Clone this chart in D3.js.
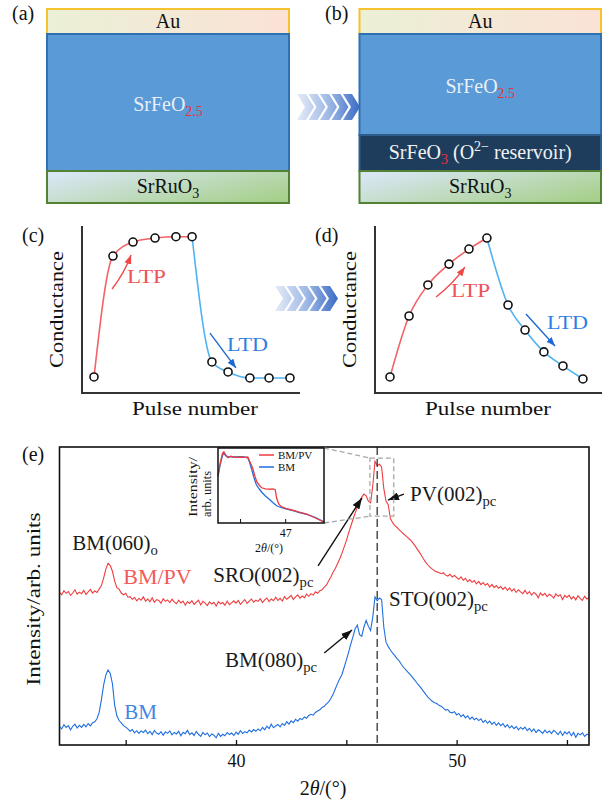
<!DOCTYPE html>
<html>
<head>
<meta charset="utf-8">
<script src="https://cdn.jsdelivr.net/npm/d3@7"></script>
<style>
  body { margin: 0; background: #fff; }
  svg { display: block; }
  text { font-family: "Liberation Serif", "DejaVu Serif", "Times New Roman", serif; white-space: pre; }
</style>
</head>
<body>
<div id="chart"></div>
<script>
// ---- data ----
// device stacks (layer thickness, arbitrary units)
const stackA = ["Au", "SrFeO2.5", "SrRuO3"];
const thickA = [25, 137, 32];
const stackB = ["Au", "SrFeO2.5", "SrFeO3", "SrRuO3"];
const thickB = [25, 101, 36, 32];

// (c) conductance vs pulse number (abrupt switching)
const cPulse = [5.5, 14.2, 23.4, 33.5, 43.1, 50.5, 59.6, 67.0, 77.0, 85.8, 95.4];
const cCond = [9.6, 82.0, 90.4, 92.8, 93.6, 93.6, 18.6, 12.6, 9.0, 9.0, 9.0];
// (d) conductance vs pulse number (gradual switching)
const dPulse = [6.6, 15.0, 23.3, 32.6, 41.4, 49.3, 58.6, 66.1, 74.4, 82.8, 91.6];
const dCond = [9.6, 46.1, 64.7, 77.2, 86.2, 92.8, 52.7, 37.7, 24.6, 16.2, 8.4];
const peakIndex = 5; // last LTP pulse

// (e) XRD, 2theta sampled every 0.1 deg from 32 to 56
const tth = d3.range(241).map(i => Math.round((32 + i / 10) * 10) / 10);
const bmpvI = [
  51.2, 50.4, 51.8, 50.9, 51.5, 50.2, 51.0, 52.1, 50.6, 51.3,
  50.8, 51.9, 50.5, 51.4, 52.2, 51.0, 51.7, 51.2, 52.4, 53.5,
  56.0, 59.0, 61.0, 60.2, 58.3, 55.0, 52.8, 52.3, 51.0, 50.4,
  50.9, 49.6, 49.8, 48.9, 49.5, 48.4, 49.2, 48.6, 49.7, 48.3,
  49.0, 48.1, 49.4, 47.9, 48.8, 48.5, 47.6, 49.1, 48.2, 48.7,
  47.8, 48.9, 48.0, 47.4, 48.6, 47.7, 48.3, 46.9, 48.1, 47.5,
  48.4, 47.2, 47.9, 48.6, 47.0, 48.2, 47.6, 46.8, 48.0, 47.3,
  47.9, 46.6, 48.1, 47.4, 47.8, 46.9, 48.3, 47.1, 47.7, 48.4,
  47.6, 48.5, 47.2, 48.0, 48.8, 47.5, 48.3, 49.0, 47.9, 48.6,
  48.2, 49.1, 47.8, 48.7, 49.3, 48.1, 49.0, 48.4, 49.6, 48.5,
  49.2, 48.3, 49.8, 48.9, 49.5, 50.2, 48.8, 49.7, 50.4, 49.3,
  50.0, 49.4, 50.6, 49.9, 50.8, 50.3, 51.4, 50.9, 51.8, 52.1,
  53.0, 53.6, 55.1, 56.4, 58.0, 59.2, 60.8, 62.4, 64.3, 66.4,
  68.5, 71.0, 73.4, 75.6, 77.8, 79.8, 81.6, 83.2, 84.2, 83.6,
  81.8, 81.3, 87.0, 95.2, 93.8, 94.2, 93.3, 86.0, 81.8, 80.6,
  76.0, 74.6, 73.6, 73.0, 72.2, 71.5, 70.8, 70.2, 69.5, 68.8,
  68.0, 67.0, 65.9, 64.8, 63.7, 62.4, 61.3, 60.4, 59.6, 59.0,
  58.5, 58.1, 57.9, 57.5, 57.8, 57.0, 56.7, 57.3, 56.4, 56.9,
  56.2, 55.6, 56.4, 55.3, 55.9, 54.8, 55.5, 54.6, 55.2, 54.1,
  54.9, 53.8, 54.5, 53.6, 54.2, 53.0, 53.9, 52.8, 53.5, 52.6,
  53.2, 52.2, 53.0, 51.9, 52.7, 51.6, 52.4, 51.2, 52.1, 51.4,
  50.8, 51.9, 50.7, 51.5, 50.3, 51.2, 50.6, 49.4, 51.0, 50.2,
  50.9, 49.8, 50.6, 50.1, 49.3, 50.7, 49.9, 50.4, 48.8, 50.2,
  49.5, 50.3, 49.0, 49.8, 48.7, 50.1, 49.2, 48.5, 49.9, 49.0,
  49.4
];
const bmI = [
  6.2, 5.4, 6.8, 5.9, 6.5, 5.1, 6.3, 7.0, 5.7, 6.6,
  5.9, 6.9, 6.1, 7.2, 6.4, 7.5, 7.8, 8.8, 11.0, 15.2,
  20.1, 23.5, 25.2, 24.0, 20.5, 13.4, 9.8, 8.2, 7.4, 6.5,
  6.0, 5.4, 4.6, 5.2, 4.1, 4.8, 3.9, 4.7, 4.2, 5.0,
  3.8, 4.6, 3.5, 4.9, 4.0, 3.6, 4.5, 3.3, 4.4, 3.9,
  4.7, 3.4, 4.2, 3.7, 4.6, 3.1, 4.3, 3.8, 4.9, 3.5,
  4.1, 3.2, 4.5, 3.6, 2.9, 4.2, 3.4, 4.0, 2.8, 3.7,
  3.3, 2.4, 3.9, 2.9, 3.6, 3.1, 4.2, 3.5, 4.0, 3.2,
  4.3, 3.6, 4.8, 3.9, 4.5, 4.1, 5.0, 4.4, 5.2, 4.6,
  5.4, 4.8, 5.9, 5.1, 6.3, 5.5, 7.0, 5.8, 6.4, 6.9,
  6.1, 7.2, 6.6, 7.8, 7.0, 8.1, 7.5, 8.6, 8.0, 8.9,
  8.5, 9.4, 9.0, 9.9, 10.3, 10.0, 10.9, 11.4, 11.8, 12.6,
  13.0, 13.8, 14.5, 15.6, 17.0, 18.8, 20.6, 22.2, 23.6, 26.0,
  28.5, 31.0, 33.8, 36.3, 39.0, 40.2, 37.0, 36.5, 39.6, 41.8,
  39.8, 38.4, 43.0, 49.7, 48.4, 49.3, 48.8, 39.5, 34.5, 33.0,
  31.9, 30.8, 30.0, 29.0, 28.2, 27.0, 26.0, 25.2, 24.4, 23.6,
  22.7, 21.8, 20.8, 19.9, 19.0, 18.0, 17.0, 16.1, 15.3, 14.7,
  14.2, 13.9, 13.3, 13.0, 12.4, 11.7, 11.9, 11.0, 10.8, 11.2,
  10.1, 10.6, 9.5, 10.2, 9.1, 9.8, 8.7, 9.4, 8.5, 9.0,
  8.2, 8.8, 7.6, 8.3, 7.3, 8.0, 6.9, 7.7, 6.6, 7.4,
  6.5, 7.2, 6.0, 6.8, 5.7, 6.4, 5.5, 6.2, 5.1, 5.9,
  5.3, 6.0, 4.8, 5.6, 4.5, 5.4, 4.2, 5.1, 4.6, 3.9,
  5.0, 4.1, 4.7, 3.8, 4.9, 4.3, 3.5, 4.6, 3.2, 4.4,
  3.7, 4.5, 3.1, 4.2, 2.6, 3.9, 3.4, 4.1, 2.9, 3.6,
  3.5
];
const xTicks = [35, 40, 45, 50, 55];
const xTickLabels = ["", "40", "", "50", ""];
const stoPeak = 46.4;

// inset: zoomed scan around the main peak
const insetBmpvTh = [45.50, 45.55, 45.60, 45.63, 45.68, 45.72, 45.78, 45.85, 45.92, 46.00, 46.08, 46.16, 46.22, 46.27, 46.32, 46.36, 46.42, 46.47, 46.55, 46.65, 46.72, 46.77, 46.80, 46.85, 46.90, 47.00, 47.16, 47.30, 47.47, 47.65, 47.85];
const insetBmpvI = [64, 80, 93, 95, 90, 87, 89, 88, 87.5, 88, 87.5, 88, 80, 73, 62, 55, 50, 47, 45.5, 45, 45.5, 44, 33, 25, 22, 19.5, 17, 14.5, 12, 7, 1];
const insetBmTh = [45.50, 45.55, 45.60, 45.63, 45.68, 45.72, 45.78, 45.85, 45.92, 46.00, 46.08, 46.16, 46.20, 46.25, 46.30, 46.35, 46.42, 46.47, 46.55, 46.65, 46.72, 46.80, 46.88, 47.00, 47.16, 47.30, 47.47, 47.65, 47.85];
const insetBmI = [62, 78, 90, 93, 89, 88, 88.5, 88, 88, 88.5, 88, 87, 81, 71, 60, 51, 45, 41, 36, 31, 27, 23, 21, 19, 16.5, 14, 11.5, 7.5, 1.5];
const insetDomain = [45.5, 47.85];
const zoomWindowTh = [46.07, 47.15];
const zoomWindowI = [76.8, 96.3];

// ---- drawing ----
const RED = "#ee3d3f", BLUE = "#1f6fe0";
const svg = d3.select("#chart").append("svg").attr("width", 605).attr("height", 802);
const defs = svg.append("defs");

function linGrad(id, stops, x1, y1, x2, y2, user) {
  const g = defs.append("linearGradient").attr("id", id)
    .attr("x1", x1).attr("y1", y1).attr("x2", x2).attr("y2", y2);
  if (user) g.attr("gradientUnits", "userSpaceOnUse");
  stops.forEach(s => g.append("stop").attr("offset", s[0]).attr("stop-color", s[1]));
}
linGrad("gAu", [[0, "#ebf0d6"], [1, "#fbe2d6"]], 0, 0, 1, 0);
linGrad("gSRO", [[0, "#d8e6f3"], [1, "#a7d08c"]], 0, 0.2, 1, 0.8);

function marker(id, color, len, wid) {
  defs.append("marker").attr("id", id).attr("markerUnits", "userSpaceOnUse")
    .attr("viewBox", `0 0 ${len} ${wid}`).attr("markerWidth", len).attr("markerHeight", wid)
    .attr("refX", len).attr("refY", wid / 2).attr("orient", "auto")
    .append("path").attr("d", `M0,0L${len},${wid / 2}L0,${wid}Z`).attr("fill", color);
}
marker("ahBlack", "#111", 11, 8);
marker("ahRed", "#f04848", 9, 7);
marker("ahBlue", "#1d6ad6", 9, 7);

// text with sub/superscripts (and italic parts)
function rich(g, x, y, parts, size, anchor) {
  const t = g.append("text").attr("x", x).attr("y", y).attr("font-size", size)
    .attr("text-anchor", anchor || "start");
  let shift = 0;
  parts.forEach(p => {
    const s = t.append("tspan").text(p.t);
    const target = p.sub ? 0.25 * size : p.sup ? -0.42 * size : 0;
    if (target !== shift) s.attr("dy", target - shift);
    shift = target;
    if (p.sub || p.sup) s.attr("font-size", size * 0.7);
    if (p.fill) s.attr("fill", p.fill);
    if (p.it) s.attr("font-style", "italic");
  });
  return t;
}

function plainLabel(g, x, y, txt, size, len, rotate) {
  const t = g.append("text").attr("font-size", size).attr("text-anchor", "middle")
    .attr("fill", "#111").text(txt);
  if (len) t.attr("textLength", len).attr("lengthAdjust", "spacingAndGlyphs");
  if (rotate) t.attr("transform", `translate(${x},${y}) rotate(-90)`);
  else t.attr("x", x).attr("y", y);
  return t;
}
const thetaParts = [{ t: "2" }, { t: "θ", it: true }, { t: "/(°)" }];

// panel letters
[["(a)", 12, 20], ["(b)", 325, 20], ["(c)", 22, 242], ["(d)", 315, 242], ["(e)", 22, 461]]
  .forEach(([s, x, y]) => svg.append("text").attr("x", x).attr("y", y).attr("font-size", 20).attr("fill", "#111").text(s));

// (a), (b) layer stacks
const layerStyle = {
  "Au": { fill: "url(#gAu)", stroke: "#f5c230", color: "#111", label: [{ t: "Au" }] },
  "SrFeO2.5": { fill: "#5a9ad6", stroke: "#2f71b0", color: "#e8eff8", label: [{ t: "SrFeO" }, { t: "2.5", sub: true, fill: "#e8323c" }] },
  "SrFeO3": { fill: "#1e3d5d", stroke: "#2c5d8c", color: "#f2f2f2", label: [{ t: "SrFeO" }, { t: "3", sub: true, fill: "#e8323c" }, { t: " (O" }, { t: "2−", sup: true }, { t: " reservoir)" }] },
  "SrRuO3": { fill: "url(#gSRO)", stroke: "#548235", color: "#111", label: [{ t: "SrRuO" }, { t: "3", sub: true }] }
};

function drawStack(x0, x1, names, thick) {
  const y = d3.scaleLinear().domain([0, d3.sum(thick)]).range([9, 203]);
  let acc = 0;
  names.forEach((n, i) => {
    const top = y(acc), bot = y(acc + thick[i]);
    acc += thick[i];
    const st = layerStyle[n];
    svg.append("rect").attr("x", x0).attr("y", top).attr("width", x1 - x0).attr("height", bot - top)
      .attr("fill", st.fill).attr("stroke", st.stroke).attr("stroke-width", 2);
    const off = n === "SrFeO2.5" ? 8 : 6;
    rich(svg, (x0 + x1) / 2, (top + bot) / 2 + off, st.label, 20, "middle").attr("fill", st.color);
  });
}
drawStack(47, 289, stackA, thickA);
drawStack(359.5, 601, stackB, thickB);

// chevron arrows
function chevrons(id, x0, y0, h, n) {
  const w = 9, d = 8, step = 11.5;
  const total = (n - 1) * step + w + d;
  linGrad(id, [[0, "#e4ebf7"], [0.5, "#9fb9e6"], [1, "#3a6bc4"]], x0, 0, x0 + total, 0, true);
  for (let i = 0; i < n; i++) {
    const x = x0 + i * step;
    const pts = [[x, y0], [x + w, y0], [x + w + d, y0 + h / 2], [x + w, y0 + h], [x, y0 + h], [x + d, y0 + h / 2]];
    svg.append("polygon").attr("points", pts.map(p => p.join(",")).join(" ")).attr("fill", `url(#${id})`);
  }
}
chevrons("gChev1", 297, 94, 26, 5);
chevrons("gChev2", 275, 286, 25, 5);

// (c), (d) conductance schematics
function curvedArrow(g, p0, p1, bend, color, mk) {
  const mx = (p0[0] + p1[0]) / 2, my = (p0[1] + p1[1]) / 2;
  const dx = p1[0] - p0[0], dy = p1[1] - p0[1], L = Math.hypot(dx, dy);
  const cx = mx - dy / L * bend, cy = my + dx / L * bend;
  g.append("path").attr("d", `M${p0[0]},${p0[1]}Q${cx},${cy} ${p1[0]},${p1[1]}`)
    .attr("fill", "none").attr("stroke", color).attr("stroke-width", 1.4).attr("marker-end", `url(#${mk})`);
}

function drawConductance(x0, x1, pulse, cond, ann) {
  const g = svg.append("g");
  const x = d3.scaleLinear().domain([0, 100]).range([x0, x1]);
  const y = d3.scaleLinear().domain([0, 100]).range([393, 226]);
  const pts = pulse.map((p, i) => [p, cond[i]]);
  const line = d3.line().x(d => x(d[0])).y(d => y(d[1])).curve(d3.curveMonotoneX);

  g.append("path").attr("d", `M${x0},${y.range()[1]}V${y.range()[0]}H${x1}`)
    .attr("fill", "none").attr("stroke", "#333").attr("stroke-width", 2);
  g.append("path").attr("d", line(pts.slice(0, peakIndex + 1)))
    .attr("fill", "none").attr("stroke", "#f36266").attr("stroke-width", 1.6);
  g.append("path").attr("d", line(pts.slice(peakIndex)))
    .attr("fill", "none").attr("stroke", "#4fb3f2").attr("stroke-width", 1.6);
  g.selectAll("circle").data(pts).join("circle")
    .attr("cx", d => x(d[0])).attr("cy", d => y(d[1])).attr("r", 4)
    .attr("fill", "#fff").attr("stroke", "#111").attr("stroke-width", 1.6);

  const P = d => [x(d[0]), y(d[1])];
  curvedArrow(g, P(ann.ltpArrow[0]), P(ann.ltpArrow[1]), ann.ltpBend, "#f04848", "ahRed");
  curvedArrow(g, P(ann.ltdArrow[0]), P(ann.ltdArrow[1]), ann.ltdBend, "#1d6ad6", "ahBlue");
  g.append("text").attr("x", x(ann.ltpText[0])).attr("y", y(ann.ltpText[1]))
    .attr("font-size", 19).attr("fill", "#f0525a").attr("textLength", 39).attr("lengthAdjust", "spacingAndGlyphs").text("LTP");
  g.append("text").attr("x", x(ann.ltdText[0])).attr("y", y(ann.ltdText[1]))
    .attr("font-size", 19).attr("fill", "#2f7fe0").attr("textLength", 41).attr("lengthAdjust", "spacingAndGlyphs").text("LTD");

  plainLabel(g, x0 - 19, (226 + 393) / 2, "Conductance", 19, 117, true);
  plainLabel(g, (x0 + 218 / 2) + 4, 415, "Pulse number", 19, 126);
}

drawConductance(82, 300, cPulse, cCond, {
  ltpArrow: [[13.8, 62.3], [22.5, 82.6]], ltpBend: 3,
  ltdArrow: [[58.7, 35.9], [70.6, 15.0]], ltdBend: 0,
  ltpText: [20.6, 65.9], ltdText: [66.5, 25.1]
});
drawConductance(375, 602, dPulse, dCond, {
  ltpArrow: [[26.9, 57.5], [39.6, 75.4]], ltpBend: 3,
  ltdArrow: [[66.5, 47.3], [79.3, 28.1]], ltdBend: 0,
  ltpText: [33.5, 57.5], ltdText: [75.8, 38.3]
});

// (e) XRD patterns
const ge = svg.append("g");
const x = d3.scaleLinear().domain([32, 56]).range([59.5, 589]);
const y = d3.scaleLinear().domain([0, 100]).range([745, 447]);
const xrdLine = d3.line().x(d => x(d[0])).y(d => y(d[1]));

ge.append("path").attr("d", xrdLine(tth.map((t, i) => [t, bmpvI[i]])))
  .attr("fill", "none").attr("stroke", RED).attr("stroke-width", 1.1);
ge.append("path").attr("d", xrdLine(tth.map((t, i) => [t, bmI[i]])))
  .attr("fill", "none").attr("stroke", BLUE).attr("stroke-width", 1.1);

ge.append("line").attr("x1", x(stoPeak)).attr("x2", x(stoPeak)).attr("y1", y(100)).attr("y2", y(0))
  .attr("stroke", "#333").attr("stroke-width", 1.3).attr("stroke-dasharray", "8,4");

const xAxis = d3.axisBottom(x).tickValues(xTicks).tickSizeInner(-5).tickSizeOuter(0).tickPadding(9)
  .tickFormat((d, i) => xTickLabels[i]);
ge.append("g").attr("transform", `translate(0,${y(0)})`).call(xAxis)
  .call(a => a.select(".domain").remove())
  .call(a => a.selectAll("line").attr("stroke", "#111").attr("stroke-width", 1.3))
  .call(a => a.selectAll("text").attr("font-size", 18).attr("fill", "#111"));

ge.append("rect").attr("x", x(32)).attr("y", y(100)).attr("width", x(56) - x(32)).attr("height", y(0) - y(100))
  .attr("fill", "none").attr("stroke", "#111").attr("stroke-width", 1.6);

plainLabel(ge, 40, (y(0) + y(100)) / 2 + 3, "Intensity/arb. units", 19, 173, true);
rich(ge, 323, 795, thetaParts, 20, "middle").attr("fill", "#111");

// peak annotations
const note = (tx, ti, parts, color, size) => rich(ge, x(tx), y(ti), parts, size || 21).attr("fill", color || "#1a1a1a");
note(32.58, 65.4, [{ t: "BM(060)" }, { t: "o", sub: true }]);
note(34.89, 54.0, [{ t: "BM/PV" }], "#f05a5c", 22);
note(34.94, 8.7, [{ t: "BM" }], "#3f86e6", 21);
note(38.97, 54.7, [{ t: "SRO(002)" }, { t: "pc", sub: true }]);
note(47.89, 81.9, [{ t: "PV(002)" }, { t: "pc", sub: true }]);
note(46.94, 46.6, [{ t: "STO(002)" }, { t: "pc", sub: true }]);
note(39.5, 26.2, [{ t: "BM(080)" }, { t: "pc", sub: true }]);

const arrowE = (a, b) => ge.append("line").attr("x1", x(a[0])).attr("y1", y(a[1])).attr("x2", x(b[0])).attr("y2", y(b[1]))
  .attr("stroke", "#111").attr("stroke-width", 1.4).attr("marker-end", "url(#ahBlack)");
arrowE([43.72, 60.1], [45.71, 82.9]);
arrowE([47.61, 84.2], [46.89, 82.2]);
arrowE([44.0, 30.9], [45.26, 38.6]);

// zoom window and inset
const ix = d3.scaleLinear().domain(insetDomain).range([218, 324]);
const iy = d3.scaleLinear().domain([0, 100]).range([523, 448]);
const wx0 = x(zoomWindowTh[0]), wx1 = x(zoomWindowTh[1]);
const wy0 = y(zoomWindowI[1]), wy1 = y(zoomWindowI[0]);
ge.append("rect").attr("x", wx0).attr("y", wy0).attr("width", wx1 - wx0).attr("height", wy1 - wy0)
  .attr("fill", "none").attr("stroke", "#a8a8a8").attr("stroke-width", 1.3).attr("stroke-dasharray", "5,3");
[[iy(100), wy0], [iy(0), wy1]].forEach(([a, b]) =>
  ge.append("line").attr("x1", ix.range()[1]).attr("y1", a).attr("x2", wx0).attr("y2", b)
    .attr("stroke", "#a8a8a8").attr("stroke-width", 1.3).attr("stroke-dasharray", "5,3"));

const gi = ge.append("g");
gi.append("rect").attr("x", 218).attr("y", 448).attr("width", 106).attr("height", 75).attr("fill", "#fff");
const iLine = d3.line().x(d => ix(d[0])).y(d => iy(d[1]));
gi.append("path").attr("d", iLine(insetBmTh.map((t, i) => [t, insetBmI[i]])))
  .attr("fill", "none").attr("stroke", BLUE).attr("stroke-width", 1.3);
gi.append("path").attr("d", iLine(insetBmpvTh.map((t, i) => [t, insetBmpvI[i]])))
  .attr("fill", "none").attr("stroke", RED).attr("stroke-width", 1.3);
[46, 47].forEach(t => gi.append("line").attr("x1", ix(t)).attr("x2", ix(t)).attr("y1", 523).attr("y2", 519)
  .attr("stroke", "#111").attr("stroke-width", 1));
gi.append("rect").attr("x", 218).attr("y", 448).attr("width", 106).attr("height", 75)
  .attr("fill", "none").attr("stroke", "#111").attr("stroke-width", 1.5);
gi.append("text").attr("x", ix(47)).attr("y", 537).attr("text-anchor", "middle").attr("font-size", 12).attr("fill", "#111").text("47");
rich(gi, 269, 552, thetaParts, 12, "middle").attr("fill", "#111");
[["Intensity/", 197, 60], ["arb. units", 211, 46]].forEach(([s, bx, len]) =>
  gi.append("text").attr("transform", `translate(${bx},517) rotate(-90)`).attr("font-size", 12)
    .attr("textLength", len).attr("lengthAdjust", "spacingAndGlyphs").attr("fill", "#111").text(s));
[["BM/PV", RED, 455], ["BM", BLUE, 467]].forEach(([s, c, ly]) => {
  gi.append("line").attr("x1", 259).attr("x2", 274).attr("y1", ly).attr("y2", ly).attr("stroke", c).attr("stroke-width", 1.5);
  gi.append("text").attr("x", 278).attr("y", ly + 3.5).attr("font-size", 11).attr("fill", "#111").text(s);
});
</script>
</body>
</html>
